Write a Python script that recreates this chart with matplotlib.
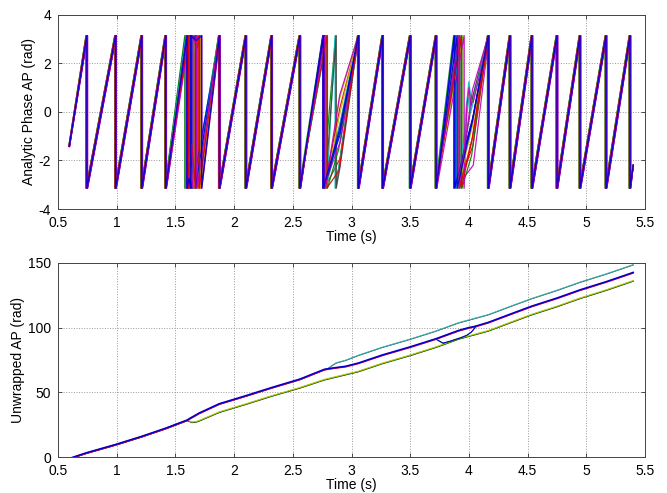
import numpy as np
import matplotlib
matplotlib.use("Agg")
import matplotlib.pyplot as plt
from matplotlib.ticker import FuncFormatter

PI = np.pi

# ---------------- top panel: wrapped analytic phase ----------------
START_T = 0.595
START_PHASE = -1.42
END_T = 5.40
END_PHASE = -2.2
WRAP_T = [0.745, 0.990, 1.213, 1.417, 1.600, 1.874, 2.100, 2.320, 2.560, 2.770,
          3.058, 3.265, 3.500, 3.720, 3.910, 4.165, 4.350, 4.537, 4.750, 4.946,
          5.168, 5.372]
TRACE_DT = [-0.006, 0.004, -0.002, 0.007, -0.004, 0.001, 0.005, -0.007,
            0.003, -0.003, 0.006, -0.001, 0.002, -0.005, 0.0, 0.0]
TRACE_COLORS = ['#008000', '#e00000', '#00bfbf', '#bf00bf', '#bfbf00', '#404040',
                '#0000ff', '#008000', '#e00000', '#00bfbf', '#bf00bf', '#bfbf00',
                '#0000e0', '#e00000', '#bf00bf', '#0000c8']
# disturbed interval near 1.6 s
MESS1_F = [1.585, 1.600, 1.590, 1.610, 1.595, 1.605, 1.600, 1.580,
           1.615, 1.590, 1.620, 1.600, 1.595, 1.610, 1.600, 1.600]
MESS1_A = [0.4, 1.2, 0.3, 0.8, 1.6, 0.5, 0.2, 1.0, 0.6, 1.4, 0.3, 0.9, 0.5, 1.8, 0.7, 0.4]
MESS1_B = [1.620, 1.655, 1.630, 1.660, 1.650, 1.640, 1.625, 1.635,
           1.665, 1.645, 1.680, 1.660, 1.640, 1.670, 1.650, 1.630]
MESS1_H = [0.2, 0.5, 0.1, 0.3, 0.6, 0.2, 0.1, 0.4, 0.3, 0.7, 0.2, 0.4, 0.1, 0.5, 0.3, 0.2]
MESS1_L = [1.660, 1.700, 1.650, 1.715, 1.690, 1.720, 1.645, 1.680,
           1.700, 1.675, 1.725, 1.710, 1.670, 1.705, 1.685, 1.724]
# disturbed interval near 2.8 s
MESS2_D = [2.755, 2.770, 2.790, 2.760, 2.780, 2.775, 2.755, 2.795,
           2.765, 2.785, 2.760, 2.780, 2.770, 2.790, 2.775, 2.760]
MESS2_X = [2.865, np.nan, 2.860, np.nan, np.nan, 2.870, np.nan, np.nan,
           np.nan, np.nan, np.nan, np.nan, np.nan, np.nan, np.nan, np.nan]
MESS2_V = [-2.2, -1.9, -2.1, -0.4, 0.5, -2.3, -0.9, -1.5,
           0.2, -0.6, -1.2, -0.1, -0.8, -2.4, 0.7, -0.7]
# disturbed interval near 3.9 s
MESS3_D = [3.870, 3.900, 3.930, 3.885, 3.950, 3.910, 3.875, 3.940,
           3.920, 3.895, 3.960, 3.905, 3.880, 3.935, 3.915, 3.900]
MESS3_V = [-0.5, -1.4, 0.5, -2.2, 0.3, 0.6, -0.2, -1.8,
           -1.0, 0.2, 0.4, -0.6, -0.3, -1.2, 0.9, -0.4]
MESS3_W = [np.nan, np.nan, 1.25, np.nan, 0.9, np.nan, np.nan, np.nan,
           np.nan, 0.6, 1.0, np.nan, np.nan, np.nan, np.nan, np.nan]

# ---------------- bottom panel: unwrapped phase ----------------
COMMON_T = [0.595, 0.745, 0.990, 1.213, 1.417, 1.600]
COMMON_V = [-1.4, 3.1, 9.4, 15.7, 22.0, 28.3]
LOW_T = [1.64, 1.68, 1.72, 1.874, 2.100, 2.320, 2.560, 2.770, 3.058, 3.265, 3.500,
         3.720, 3.910, 4.165, 4.350, 4.537, 4.750, 4.946, 5.168, 5.372, 5.400]
LOW_V = [26.8, 27.2, 28.6, 34.6, 40.8, 47.1, 53.4, 59.7, 66.0, 72.3, 78.5,
         84.8, 91.1, 97.4, 103.7, 110.0, 116.2, 122.5, 128.8, 135.1, 136.0]
MID_T = [1.63, 1.66, 1.70, 1.874, 2.100, 2.320, 2.560, 2.770, 2.850, 2.950, 3.058,
         3.265, 3.500, 3.720, 3.910, 4.000, 4.050, 4.165, 4.350, 4.537, 4.750,
         4.946, 5.168, 5.372, 5.400]
MID_V = [30.0, 31.5, 33.6, 40.9, 47.1, 53.4, 59.9, 67.5, 68.6, 69.8, 72.3,
         78.6, 84.8, 91.1, 97.4, 99.7, 100.6, 103.7, 110.0, 116.3, 122.5,
         128.8, 135.1, 141.4, 142.3]
HIGH_T = [2.79, 2.83, 2.87, 2.95, 3.058, 3.265, 3.500, 3.720, 3.910, 4.165,
          4.350, 4.537, 4.750, 4.946, 5.168, 5.372, 5.400]
HIGH_V = [67.8, 70.5, 72.8, 74.8, 78.6, 84.9, 91.1, 97.4, 103.7, 110.0,
          116.3, 122.5, 128.8, 135.1, 141.4, 147.7, 148.6]
DIP_T = [3.72, 3.78, 3.85, 3.93, 3.98, 4.02, 4.06]
DIP_V = [91.1, 88.0, 89.8, 92.2, 94.0, 96.5, 100.8]

LOW_COLORS = ['#404040', '#008000', '#c8c800']
MID_COLORS = ['#e00000', '#bf00bf', '#0000c8']
HIGH_COLORS = ['#404040', '#30b8b8']
DIP_COLORS = ['#008000', '#0000c8']
LINE_OFFS = [-0.3, 0.0, 0.3]


def wrapped_trace(i):
    dt = TRACE_DT[i]
    t = [START_T + dt * 0.5]
    y = [START_PHASE]
    for k, w0 in enumerate(WRAP_T):
        w = w0 + dt
        if k == 4:
            f, a, b, h, l = MESS1_F[i], MESS1_A[i], MESS1_B[i], MESS1_H[i], MESS1_L[i]
            t += [f, f, (f + b) / 2, b, b, (b + l) / 2, l, l]
            y += [PI, -PI, -PI + a, -PI, PI, PI - h, PI, -PI]
        elif k == 9:
            d = MESS2_D[i]
            t += [d, d]
            y += [PI, -PI]
            x = MESS2_X[i]
            if not np.isnan(x):
                t += [x, x]
                y += [PI, -PI]
            t += [2.90 + dt]
            y += [MESS2_V[i]]
        elif k == 14:
            d = MESS3_D[i]
            t += [d, d]
            y += [PI, -PI]
            wv = MESS3_W[i]
            if not np.isnan(wv):
                t += [3.98, 4.0, 4.015]
                y += [wv - 0.9, wv, wv - 0.6]
            t += [4.03 + dt]
            y += [MESS3_V[i]]
        else:
            t += [w, w]
            y += [PI, -PI]
    t += [END_T]
    y += [END_PHASE]
    return np.array(t), np.array(y)


plt.rcParams['font.family'] = ['Liberation Sans', 'DejaVu Sans']
fig = plt.figure(figsize=(6.67, 4.93), dpi=100)
ax1 = fig.add_axes([0.087, 0.576, 0.880, 0.394])
ax2 = fig.add_axes([0.087, 0.073, 0.880, 0.394])

for i in range(len(TRACE_DT)):
    t, y = wrapped_trace(i)
    ax1.plot(t, y, color=TRACE_COLORS[i], lw=0.9, alpha=0.9)

# bottom
for gi, c in enumerate(LOW_COLORS):
    t = np.array(COMMON_T + LOW_T)
    v = np.array(COMMON_V + LOW_V) + LINE_OFFS[gi]
    ax2.plot(t, v, color=c, lw=0.7)
for gi, c in enumerate(HIGH_COLORS):
    t = np.array(COMMON_T + MID_T[:8] + HIGH_T)
    v = np.array(COMMON_V + MID_V[:8] + HIGH_V) + LINE_OFFS[gi]
    ax2.plot(t, v, color=c, lw=0.7)
for gi, c in enumerate(DIP_COLORS):
    t = np.array(DIP_T)
    v = np.array(DIP_V) + LINE_OFFS[gi]
    ax2.plot(t, v, color=c, lw=0.7)
for gi, c in enumerate(MID_COLORS):
    t = np.array(COMMON_T + MID_T)
    v = np.array(COMMON_V + MID_V) + LINE_OFFS[gi]
    ax2.plot(t, v, color=c, lw=1.1 if c == '#0000c8' else 0.8)

xticks = np.arange(0.5, 5.51, 0.5)
fmt = FuncFormatter(lambda v, p: '%g' % v)
for ax in (ax1, ax2):
    ax.set_xlim(0.5, 5.5)
    ax.set_xticks(xticks)
    ax.xaxis.set_major_formatter(fmt)
    ax.yaxis.set_major_formatter(fmt)
    ax.grid(True, linestyle=':', color='#999999', lw=0.7)
    ax.tick_params(direction='in', top=True, right=True, labelsize=10,
                   length=3, width=0.6, colors='#333333', labelcolor='black')
    ax.tick_params(axis='x', pad=5)
    ax.tick_params(axis='y', pad=5)
    for s in ax.spines.values():
        s.set_color('#444444')
        s.set_linewidth(0.7)
    ax.set_xlabel('Time (s)', fontsize=10, labelpad=0)

ax1.set_ylim(-4, 4)
ax1.set_yticks([-4, -2, 0, 2, 4])
ax1.set_ylabel('Analytic Phase AP (rad)', fontsize=10, labelpad=2)
ax2.set_ylim(0, 150)
ax2.set_yticks([0, 50, 100, 150])
ax2.set_ylabel('Unwrapped AP (rad)', fontsize=10, labelpad=2)

fig.savefig('out.png', dpi=100)
